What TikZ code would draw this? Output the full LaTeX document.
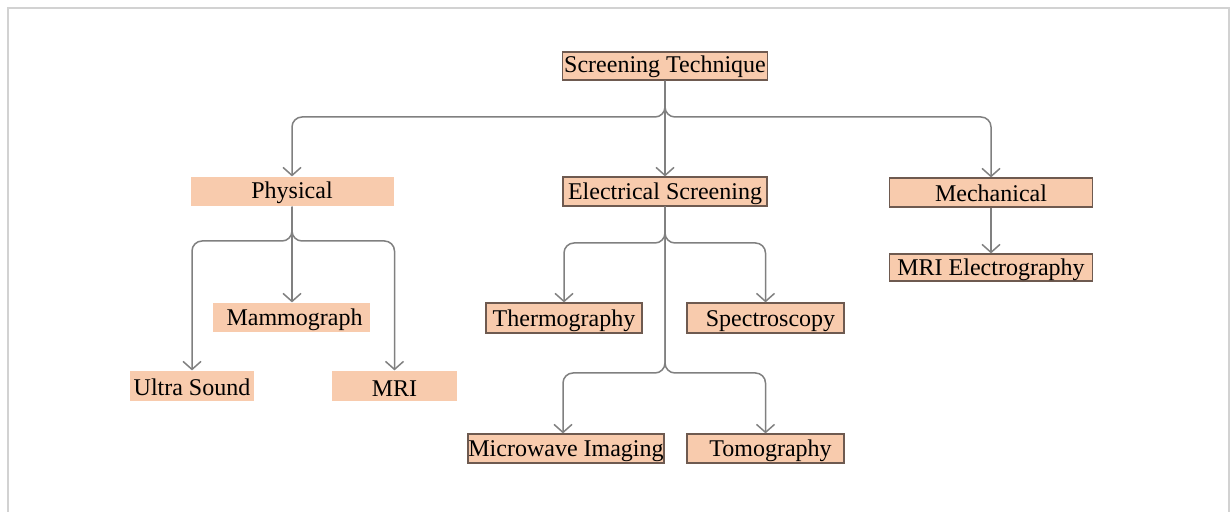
\documentclass[tikz,border=0pt]{standalone}
\usepackage{fontspec}
\setmainfont{Liberation Serif}
\usetikzlibrary{arrows.meta}
\definecolor{boxfill}{HTML}{F8CBAD}
\definecolor{boxline}{HTML}{6E5A50}
\definecolor{linkgray}{HTML}{808080}
\definecolor{framegray}{HTML}{D2D2D2}
\tikzset{
  box/.style={fill=boxfill, draw=boxline, line width=0.6pt, inner sep=0pt,
    font=\fontsize{12}{14}\selectfont, text=black, anchor=center,
    text height=8.9pt, text depth=0.4pt},
  plainbox/.style={box, draw=none},
  link/.style={draw=linkgray, line width=0.75pt, rounded corners=5pt,
    -{Straight Barb[length=4pt,width=9pt]}},
}
\begin{document}
\begin{tikzpicture}[x=0.5pt,y=-0.5pt]
\useasboundingbox (0,0) rectangle (1230,512);
% outer frame
\draw[framegray, line width=0.8pt] (8,512) -- (8,8) -- (1229,8) -- (1229,512);

% nodes
\node[box, minimum width=102.5pt, minimum height=14pt] (top) at (665,66) {\raisebox{1pt}{Screening Technique}};
\node[plainbox, minimum width=101.5pt, minimum height=14.5pt] (phys) at (292,191.5) {\raisebox{0.5pt}{Physical}};
\node[box, minimum width=102pt, minimum height=14.5pt] (elec) at (665,191.5) {Electrical Screening};
\node[box, minimum width=101.5pt, minimum height=14.5pt] (mech) at (991,192.5) {\raisebox{-0.5pt}{Mechanical}};
\node[box, minimum width=101.5pt, minimum height=13.5pt] (mrie) at (991,267.5) {MRI Electrography};
\node[plainbox, minimum width=78.5pt, minimum height=14.5pt] (mammo) at (291.5,317.5) {\hspace{3pt}Mammograph};
\node[box, minimum width=78pt, minimum height=15pt] (thermo) at (564,318) {Thermography};
\node[box, minimum width=78.5pt, minimum height=15pt] (spectro) at (765.5,318) {\hspace{5pt}Spectroscopy};
\node[plainbox, minimum width=62pt, minimum height=15pt] (ultra) at (192,386) {\raisebox{-0.6pt}{Ultra Sound}};
\node[plainbox, minimum width=62.5pt, minimum height=15pt] (mri) at (394.5,386) {\raisebox{-1pt}{MRI}};
\node[box, minimum width=98pt, minimum height=14.5pt] (micro) at (566,448.5) {Microwave Imaging};
\node[box, minimum width=78.5pt, minimum height=14.5pt] (tomo) at (765.5,448.5) {\hspace{5pt}Tomography};

% bus levels
\coordinate (b0) at (665,117);
\coordinate (b1) at (292,241);
\coordinate (b2) at (665,243);
\coordinate (b3) at (665,373);

% top level
\draw[link] (top.south) |- (phys.north |- b0) -- (phys.north);
\draw[link] (top.south) |- (mech.north |- b0) -- (mech.north);
\draw[link] (top.south) -- (elec.north);

% physical branch
\draw[link] (phys.south) |- (ultra.north |- b1) -- (ultra.north);
\draw[link] (phys.south) |- (mri.north |- b1) -- (mri.north);
\draw[link] (phys.south) -- (mammo.north -| phys.south);

% electrical branch
\draw[link] (elec.south) |- (thermo.north |- b2) -- (thermo.north);
\draw[link] (elec.south) |- (spectro.north |- b2) -- (spectro.north);
\draw[link] (elec.south) |- ([xshift=-1.5pt]micro.north |- b3) -- ([xshift=-1.5pt]micro.north);
\draw[link] (elec.south) |- (tomo.north |- b3) -- (tomo.north);

% mechanical branch
\draw[link] (mech.south) -- (mrie.north);
\end{tikzpicture}
\end{document}
